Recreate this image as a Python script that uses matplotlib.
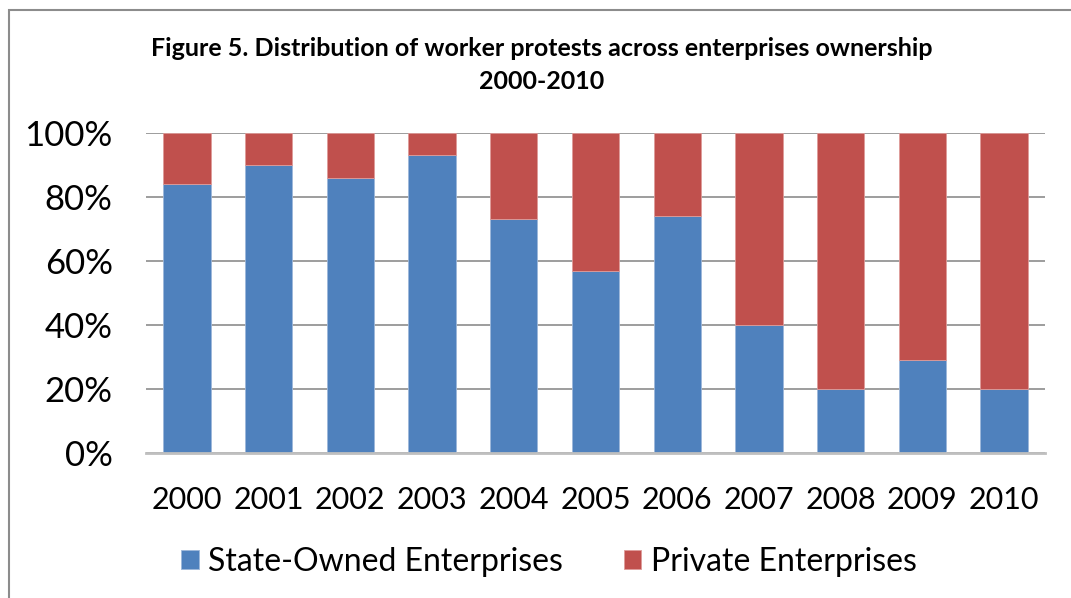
import matplotlib
matplotlib.use("Agg")
import matplotlib.pyplot as plt
from matplotlib.patches import Rectangle
from matplotlib.ticker import FuncFormatter

years = ["2000", "2001", "2002", "2003", "2004", "2005", "2006", "2007", "2008", "2009", "2010"]
state_owned = [84, 90, 86, 93, 73, 57, 74, 40, 20, 29, 20]
private = [100 - v for v in state_owned]
series_names = ["State-Owned Enterprises", "Private Enterprises"]
title = "Figure 5. Distribution of worker protests across enterprises ownership\n2000-2010"

plt.rcParams['font.family'] = ['Lato', 'DejaVu Sans']

W, H = 1071, 598
fig = plt.figure(figsize=(W / 100, H / 100), dpi=100)
ax = fig.add_axes([146 / W, 1 - 453 / H, (1045 - 146) / W, (453 - 133) / H])

blue = "#4F81BD"
red = "#C0504D"
x = list(range(len(years)))
ax.bar(x, state_owned, width=0.58, color=blue, edgecolor="#9DB7DA", linewidth=0.6,
       label=series_names[0], zorder=3)
ax.bar(x, private, bottom=state_owned, width=0.58, color=red, edgecolor="#DE9C9A",
       linewidth=0.6, label=series_names[1], zorder=3)

ax.set_xlim(-0.5, len(years) - 0.5)
ax.set_ylim(0, 100)
ax.set_yticks([0, 20, 40, 60, 80, 100])
ax.yaxis.set_major_formatter(FuncFormatter(lambda v, p: f"{int(v)}%"))
ax.set_xticks(x)
ax.set_xticklabels(years)

ax.grid(axis='y', color="#8C8C8C", linewidth=1.2, zorder=0)
ax.set_axisbelow(True)
for s in ["top", "right", "left"]:
    ax.spines[s].set_visible(False)
ax.spines["bottom"].set_color("#BFBFBF")
ax.spines["bottom"].set_linewidth(2)
ax.spines["bottom"].set_zorder(4)

ax.tick_params(axis='x', length=0, pad=24, labelsize=22)
ax.tick_params(axis='y', length=0, pad=24, labelsize=25)

fig.text(542 / W, 1 - 65 / H, title, ha='center', va='center', fontsize=18,
         fontweight='bold', linespacing=1.5)

handles, labels = ax.get_legend_handles_labels()
fig.legend(handles, labels, loc='center', bbox_to_anchor=(549 / W, 1 - 562 / H), ncol=2,
           frameon=False, fontsize=23, handlelength=0.55, handleheight=0.55,
           handletextpad=0.3, columnspacing=1.9)

fig.patches.append(Rectangle((9 / W, -0.1), 1.2, 1 - 10 / H + 0.1, transform=fig.transFigure,
                             fill=False, edgecolor="#8C8C8C", linewidth=1.5))

fig.savefig("out.png", dpi=100)
